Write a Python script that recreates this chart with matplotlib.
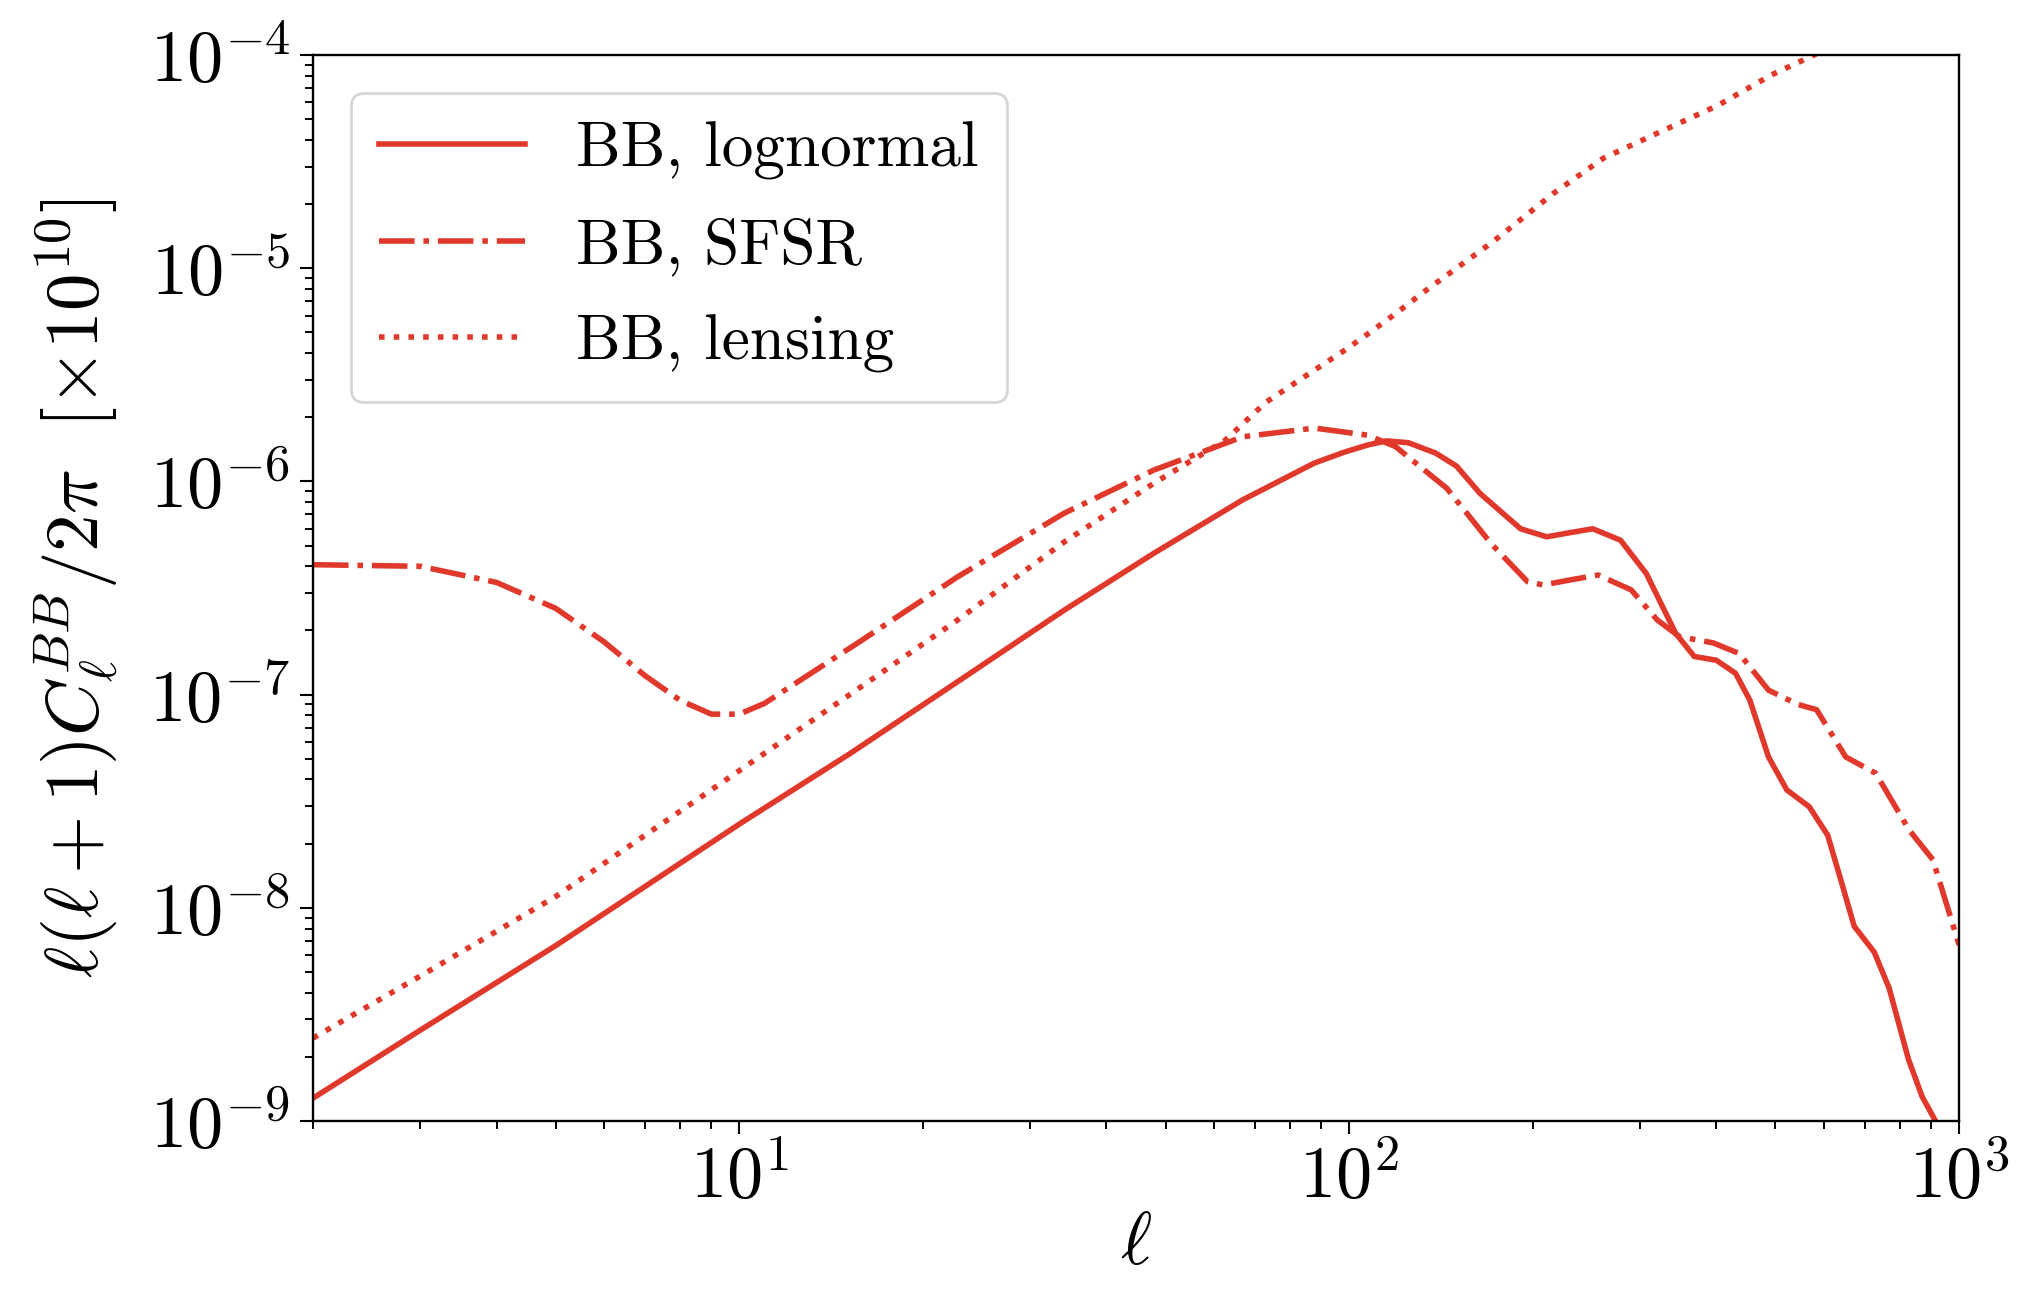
import numpy as np
import matplotlib
matplotlib.use("Agg")
import matplotlib.pyplot as plt
from matplotlib.ticker import FuncFormatter, LogLocator, NullFormatter

plt.rcParams['font.family'] = 'serif'
plt.rcParams['font.serif'] = ['cmr10']
plt.rcParams['mathtext.fontset'] = 'cm'
plt.rcParams['axes.formatter.use_mathtext'] = True

red = '#e0392b'

# BB spectra, l(l+1)C_l/2pi in units of 1e-10
ell_ln = [2, 3, 5, 10, 15.2, 22.8, 34.1, 47.8, 66.9, 87.7, 98, 107, 115, 125,
          138.5, 150, 163.8, 191, 210.7, 230, 250.8, 278.6, 307, 343, 368, 400,
          430, 454, 487, 522, 568, 609, 640, 673, 726, 768, 826, 870, 915, 940]
cl_ln = [1.28e-9, 2.67e-9, 6.65e-9, 2.47e-8, 5.3e-8, 1.15e-7, 2.49e-7, 4.6e-7,
         8.2e-7, 1.22e-6, 1.37e-6, 1.48e-6, 1.55e-6, 1.52e-6, 1.36e-6, 1.18e-6,
         8.8e-7, 6.0e-7, 5.5e-7, 5.75e-7, 6.0e-7, 5.3e-7, 3.7e-7, 1.94e-7,
         1.51e-7, 1.45e-7, 1.26e-7, 9.4e-8, 5.1e-8, 3.57e-8, 2.98e-8, 2.19e-8,
         1.35e-8, 8.2e-9, 6.2e-9, 4.2e-9, 1.95e-9, 1.3e-9, 1.0e-9, 8.0e-10]

ell_sfsr = [2, 3, 4, 5, 6, 7, 8, 9, 10, 11, 15.6, 22.8, 34.1, 47.8, 66.9, 87.7,
            107, 119, 144.5, 171, 196, 208, 230, 256, 290, 320, 348, 395, 436,
            487, 544, 584, 652, 730, 828, 906, 1000]
cl_sfsr = [4.07e-7, 4.0e-7, 3.36e-7, 2.54e-7, 1.77e-7, 1.23e-7, 9.4e-8, 8.1e-8,
           8.1e-8, 9.1e-8, 1.74e-7, 3.57e-7, 7.1e-7, 1.13e-6, 1.62e-6, 1.78e-6,
           1.65e-6, 1.46e-6, 9.3e-7, 5.1e-7, 3.39e-7, 3.27e-7, 3.45e-7, 3.64e-7,
           3.1e-7, 2.24e-7, 1.87e-7, 1.75e-7, 1.56e-7, 1.05e-7, 9.0e-8, 8.5e-8,
           5.1e-8, 4.28e-8, 2.32e-8, 1.68e-8, 6.7e-9]

ell_lens = [2, 3, 5, 10, 15.4, 22.8, 34.1, 47.8, 62.6, 73, 83, 98, 106, 118, 135,
            172, 216, 261, 320, 402, 492, 578, 650]
cl_lens = [2.45e-9, 4.79e-9, 1.13e-8, 4.4e-8, 1.03e-7, 2.24e-7, 5.2e-7, 9.8e-7,
           1.56e-6, 2.35e-6, 3.0e-6, 4.1e-6, 4.8e-6, 6.0e-6, 8.05e-6, 1.33e-5,
           2.24e-5, 3.28e-5, 4.3e-5, 5.8e-5, 8.06e-5, 1.0e-4, 1.2e-4]

fig = plt.figure(figsize=(10.09, 6.48), dpi=200)
ax = fig.add_axes([0.1551, 0.1350, 0.8157, 0.8225])

ax.plot(ell_ln, cl_ln, '-', color=red, lw=2, label='BB, lognormal')
ax.plot(ell_sfsr, cl_sfsr, '-.', color=red, lw=2, label='BB, SFSR')
ax.plot(ell_lens, cl_lens, ':', color=red, lw=2, label='BB, lensing')

ax.set_xscale('log')
ax.set_yscale('log')
ax.set_xlim(2, 1000)
ax.set_ylim(1e-9, 1e-4)

fmt = FuncFormatter(lambda v, p: r'$10^{%d}$' % int(round(np.log10(v))))
for axis in (ax.xaxis, ax.yaxis):
    axis.set_major_locator(LogLocator(base=10, numticks=20))
    axis.set_minor_locator(LogLocator(base=10, subs=np.arange(2, 10), numticks=20))
    axis.set_major_formatter(fmt)
    axis.set_minor_formatter(NullFormatter())

ax.tick_params(which='major', length=4.7, width=0.75, labelsize=26, pad=3.5)
ax.tick_params(which='minor', length=2.9, width=0.7)
for s in ax.spines.values():
    s.set_linewidth(0.85)

ax.set_xlabel(r'$\ell$', fontsize=27, labelpad=0)
ax.set_ylabel(r'$\ell(\ell+1)C_\ell^{BB}/2\pi\ \ [\times 10^{10}]$', fontsize=27, labelpad=10)

ax.legend(loc='upper left', fontsize=22.8, handlelength=2.3, handletextpad=0.8,
          labelspacing=0.6, borderpad=0.45, borderaxespad=0.6)

fig.savefig('out.png', dpi=200)
